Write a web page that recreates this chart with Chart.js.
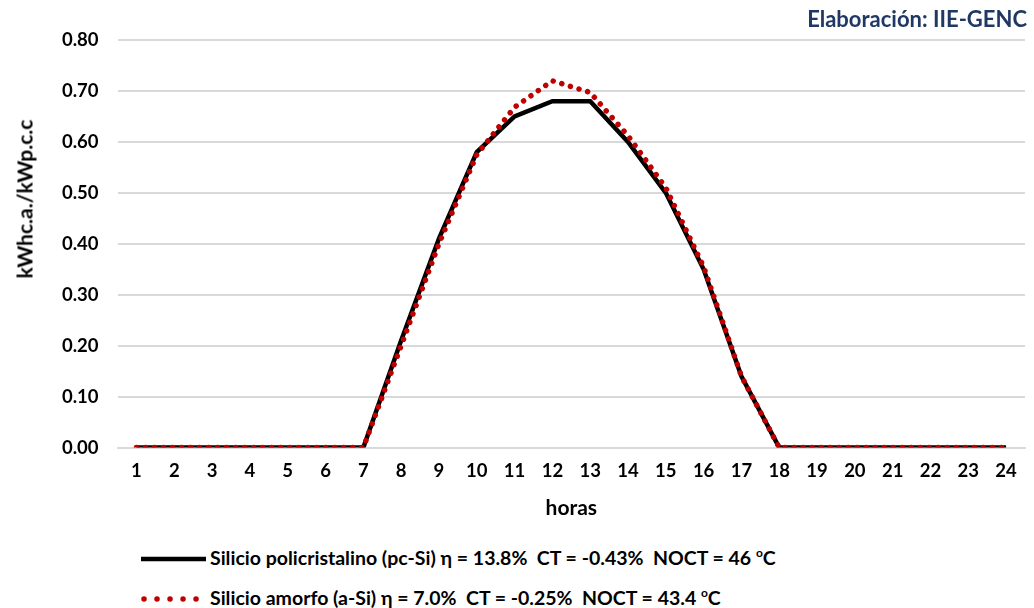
<!DOCTYPE html>
<html>
<head>
<meta charset="utf-8">
<script src="https://cdn.jsdelivr.net/npm/chart.js@4.4.0/dist/chart.umd.min.js"></script>
<style>
  body { margin: 0; background: #fff; font-family: Lato, sans-serif; }
  #wrap { position: relative; width: 1034px; height: 608px; overflow: hidden; }
  #chartBox { position: absolute; left: 0; top: 0; width: 1034px; height: 528px; }
  .credit { position: absolute; right: 7px; top: 5px; font-weight: bold; font-size: 22px; color: #203864; }
  .ytitle { position: absolute; left: 24px; top: 199px; transform: translate(-50%, -50%) rotate(-90deg);
            font-weight: bold; font-size: 21px; white-space: nowrap; color: #000; }
  .legend { position: absolute; left: 140px; font-weight: bold; font-size: 19.5px; color: #000; white-space: nowrap; line-height: 24px; }
  .legend .swatch { display: inline-block; width: 67px; height: 14px; vertical-align: -1px; margin-right: 3px; }
  .legend sup { font-size: 12px; }
</style>
</head>
<body>
<div id="wrap">
  <div id="chartBox"><canvas id="chart"></canvas></div>
  <div class="credit">Elaboración: IIE-GENC</div>
  <div class="ytitle">kWhc.a./kWp.c.c</div>
  <div class="legend" style="top:541px"><canvas class="swatch" id="sw1" width="67" height="14"></canvas>Silicio policristalino (pc-Si) η = 13.8%&nbsp; CT = -0.43%&nbsp; NOCT = 46 <sup>o</sup>C</div>
  <div class="legend" style="top:581px"><canvas class="swatch" id="sw2" width="67" height="14"></canvas>Silicio amorfo (a-Si) η = 7.0%&nbsp; CT = -0.25%&nbsp; NOCT = 43.4 <sup>o</sup>C</div>
</div>
<script>
// horas del día
const horas = ['1','2','3','4','5','6','7','8','9','10','11','12','13','14','15','16','17','18','19','20','21','22','23','24'];

// Silicio policristalino (pc-Si)
const policristalino = [0, 0, 0, 0, 0, 0, 0, 0.21, 0.41, 0.58, 0.65, 0.68, 0.68, 0.60, 0.50, 0.35, 0.14, 0, 0, 0, 0, 0, 0, 0];

// Silicio amorfo (a-Si)
const amorfo = [0, 0, 0, 0, 0, 0, 0, 0.20, 0.40, 0.575, 0.668, 0.72, 0.697, 0.612, 0.51, 0.355, 0.14, 0, 0, 0, 0, 0, 0, 0];

const yTicks = [0, 0.1, 0.2, 0.3, 0.4, 0.5, 0.6, 0.7, 0.8];

const BLACK = '#000000';
const RED = '#C00000';

const ctx = document.getElementById('chart').getContext('2d');
new Chart(ctx, {
    type: 'line',
    data: {
        labels: horas,
        datasets: [{
            label: 'Silicio policristalino (pc-Si)',
            data: policristalino,
            borderColor: BLACK,
            borderWidth: 4.5,
            pointRadius: 0,
            tension: 0,
            order: 2
        }, {
            label: 'Silicio amorfo (a-Si)',
            data: amorfo,
            borderColor: RED,
            borderWidth: 5.5,
            borderDash: [0.01, 9],
            borderCapStyle: 'round',
            pointRadius: 0,
            tension: 0,
            order: 1
        }]
    },
    options: {
        responsive: true,
        maintainAspectRatio: false,
        animation: false,
        layout: { padding: { left: 43, right: 9, top: 40, bottom: 7 } },
        plugins: {
            legend: { display: false },
            tooltip: { enabled: false }
        },
        scales: {
            x: {
                offset: true,
                grid: { display: false, drawTicks: false },
                border: { display: true, color: '#d9d9d9', width: 2 },
                ticks: {
                    color: BLACK,
                    padding: 12,
                    maxRotation: 0,
                    font: { family: 'Lato', weight: 'bold', size: 18.5 }
                },
                title: {
                    display: true,
                    text: 'horas',
                    color: BLACK,
                    padding: { top: 2, bottom: 0 },
                    font: { family: 'Lato', weight: 'bold', size: 21 }
                }
            },
            y: {
                min: 0,
                max: 0.8,
                afterBuildTicks: axis => { axis.ticks = yTicks.map(v => ({ value: v })); },
                grid: { color: '#d9d9d9', lineWidth: 2, drawTicks: false },
                border: { display: false },
                ticks: {
                    color: BLACK,
                    padding: 19,
                    font: { family: 'Lato', weight: 'bold', size: 18.5 },
                    callback: v => Number(v).toFixed(2)
                }
            }
        }
    }
});

// muestras de la leyenda
const s1 = document.getElementById('sw1').getContext('2d');
s1.strokeStyle = BLACK; s1.lineWidth = 4.5;
s1.beginPath(); s1.moveTo(1, 7); s1.lineTo(66, 7); s1.stroke();

const s2 = document.getElementById('sw2').getContext('2d');
s2.strokeStyle = RED; s2.lineWidth = 5.5; s2.lineCap = 'round';
s2.setLineDash([0.01, 13]);
s2.beginPath(); s2.moveTo(4, 7); s2.lineTo(66, 7); s2.stroke();
</script>
</body>
</html>
